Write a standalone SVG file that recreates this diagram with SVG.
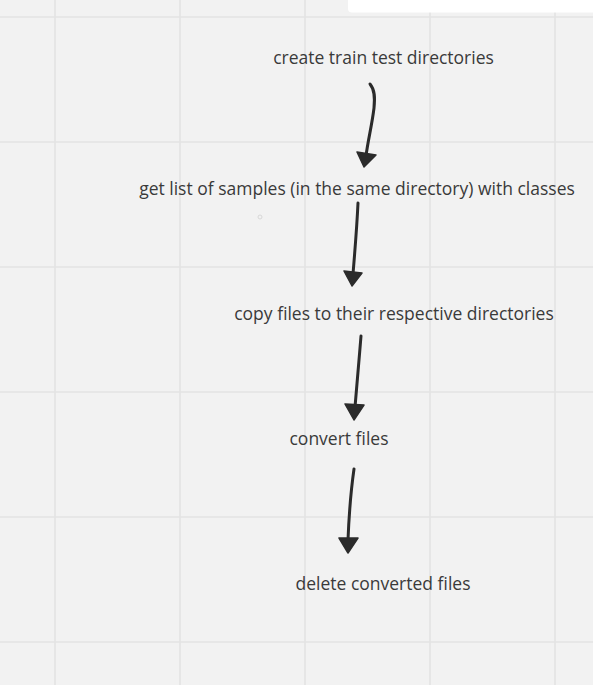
<svg xmlns="http://www.w3.org/2000/svg" width="593" height="685" viewBox="0 0 593 685">
<style>
.grid{stroke:#e3e3e3;stroke-width:1.6;fill:none}
.lbl{font-family:"Open Sans","Liberation Sans",sans-serif;font-size:17.5px;fill:#3a3a3a}
.line{fill:none;stroke:#2b2b2b;stroke-width:3;stroke-linecap:round;stroke-linejoin:round}
.head{fill:#2b2b2b;stroke:#2b2b2b;stroke-width:1.5;stroke-linejoin:round}
</style>
<rect x="0" y="0" width="593" height="685" fill="#f2f2f2"/>
<g id="grid">
<path class="grid" d="M55,0V685M180,0V685M305,0V685M430,0V685M555,0V685M0,17H593M0,142H593M0,267H593M0,392H593M0,517H593M0,642H593"/>
</g>
<rect x="348" y="-6" width="252" height="18.5" rx="4" fill="#ffffff"/>
<circle cx="260" cy="217" r="2" fill="none" stroke="#d8d8d8" stroke-width="1"/>
<g id="n1"><text class="lbl" x="383.5" y="64" text-anchor="middle">create train test directories</text></g>
<g id="n2"><text class="lbl" x="357" y="195" text-anchor="middle">get list of samples (in the same directory) with classes</text></g>
<g id="n3"><text class="lbl" x="394" y="320" text-anchor="middle">copy files to their respective directories</text></g>
<g id="n4"><text class="lbl" x="339" y="445" text-anchor="middle">convert files</text></g>
<g id="n5"><text class="lbl" x="383" y="590" text-anchor="middle">delete converted files</text></g>
<g id="connectors">
<path class="line" d="M370,84 C375,90 375,98 374,108 C372,125 368,140 366,156"/>
<path class="head" d="M357,152 L376,155 L364,167 Z"/>
<path class="line" d="M358,203 C357,225 355,250 353,274"/>
<path class="head" d="M344,271 L362,273 L352,286 Z"/>
<path class="line" d="M361,336 C359,360 357,385 355,407"/>
<path class="head" d="M345,404 L364,405 L354,420 Z"/>
<path class="line" d="M354,469 C351,490 349,515 348,540"/>
<path class="head" d="M339,538 L358,538 L348,553 Z"/>
</g>
</svg>
